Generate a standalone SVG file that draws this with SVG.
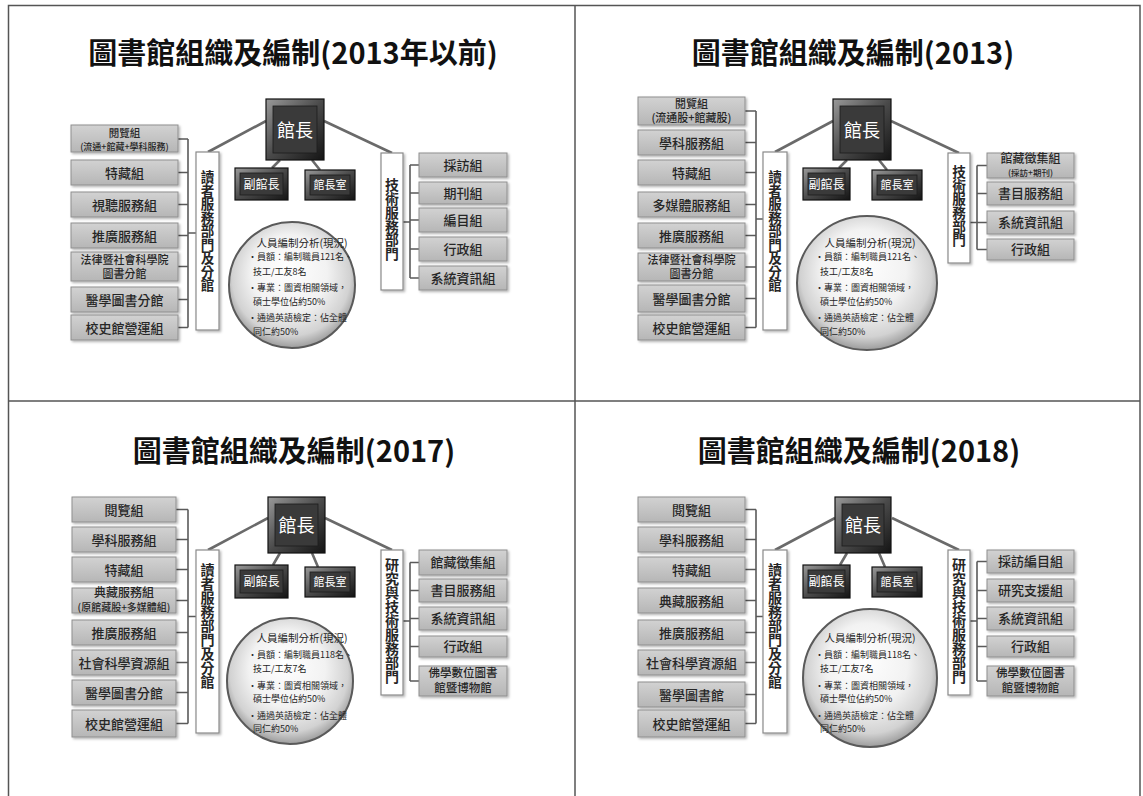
<svg xmlns="http://www.w3.org/2000/svg" width="1143" height="796" viewBox="0 0 1143 796">
<defs>
<linearGradient id="gg" x1="0" y1="0" x2="0" y2="1"><stop offset="0" stop-color="#d2d2d2"/><stop offset="1" stop-color="#b6b6b6"/></linearGradient>
<linearGradient id="bev" x1="0" y1="0" x2="1" y2="1"><stop offset="0" stop-color="#9a9a9a"/><stop offset="0.5" stop-color="#4a4a4a"/><stop offset="1" stop-color="#141414"/></linearGradient>
<radialGradient id="rg" cx="0.5" cy="0.45" r="0.55" fx="0.45" fy="0.35"><stop offset="0" stop-color="#ffffff"/><stop offset="0.55" stop-color="#f2f2f2"/><stop offset="0.85" stop-color="#d2d2d2"/><stop offset="1" stop-color="#9c9c9c"/></radialGradient>
<filter id="sh" x="-10%" y="-10%" width="130%" height="140%"><feDropShadow dx="1.5" dy="1.5" stdDeviation="1" flood-color="#000" flood-opacity="0.3"/></filter>
<style>
.gb{fill:url(#gg);stroke:#8f8f8f;stroke-width:1;filter:url(#sh)}
.lb{fill:#fff;stroke:#8a8a8a;stroke-width:1.2;filter:url(#sh)}
.do{fill:url(#bev);stroke:#111;stroke-width:1.2}
.di{fill:#3a3a3a;stroke:#1c1c1c;stroke-width:0.8}
.ci{fill:url(#rg);stroke:#5a5a5a;stroke-width:2}
.br{stroke:#5a5a5a;stroke-width:1.6;fill:none}
.cn{stroke:#6a6a6a;stroke-width:2.6;fill:none}
.fr{stroke:#555;stroke-width:1.5;fill:none}
text{font-family:"Noto Sans CJK TC","Noto Sans CJK SC",sans-serif;fill:#262626}
.t{font-size:13px;text-anchor:middle;font-weight:500}
.ttl{font-size:29px;font-weight:bold;text-anchor:middle;fill:#111}
.w{fill:#fff;text-anchor:middle}
.v{font-weight:bold;writing-mode:vertical-rl;text-anchor:start}
.s{font-size:9px}
.ch{font-size:10.5px;text-anchor:middle}
</style>
</defs>
<rect width="1143" height="796" fill="#fff"/>
<g id="frame">
<path class="fr" d="M8.5 796V5.5H1140V796M575 5.5V796M8.5 401H1140"/>
</g>

<!-- Q1 -->
<g id="q1">
<text class="ttl" x="293" y="64">圖書館組織及編制(2013年以前)</text>
<g id="q1-conn">
<path class="cn" d="M208 152L266 121M324 121L392 153M280 160L272 168M312 160L320 170"/>
<path class="br" d="M178 139H188M178 172.5H188M178 204.5H188M178 235.5H188M178 266.5H188M178 299.5H188M178 327.5H188M188 139V327.5M188 233H196"/>
<path class="br" d="M403 222H410M410 165V278M410 165H419M410 193H419M410 220H419M410 249H419M410 278H419"/>
</g>
<g id="q1-l1"><rect class="gb" x="71" y="125" width="107" height="27"/><text class="t"><tspan x="124.5" y="137" style="font-size:10.5px">閱覽組</tspan><tspan x="124.5" y="149.5" style="font-size:9px">(流通+館藏+學科服務)</tspan></text></g>
<g id="q1-l2"><rect class="gb" x="71" y="160" width="107" height="25"/><text class="t" x="124.5" y="177.5">特藏組</text></g>
<g id="q1-l3"><rect class="gb" x="71" y="192" width="107" height="25"/><text class="t" x="124.5" y="209.5">視聽服務組</text></g>
<g id="q1-l4"><rect class="gb" x="71" y="223" width="107" height="25"/><text class="t" x="124.5" y="240.5">推廣服務組</text></g>
<g id="q1-l5"><rect class="gb" x="71" y="252" width="107" height="29"/><text class="t" style="font-size:11px"><tspan x="124.5" y="263.5">法律暨社會科學院</tspan><tspan x="124.5" y="277.5">圖書分館</tspan></text></g>
<g id="q1-l6"><rect class="gb" x="71" y="287" width="107" height="25"/><text class="t" x="124.5" y="304.5">醫學圖書分館</text></g>
<g id="q1-l7"><rect class="gb" x="71" y="315" width="107" height="25"/><text class="t" x="124.5" y="332.5">校史館營運組</text></g>
<g id="q1-reader"><rect class="lb" x="196" y="152" width="23" height="178"/><text class="v" x="207.5" y="170.3" style="font-size:13.5px">讀者服務部門及分館</text></g>
<g id="q1-director"><rect class="do" x="266" y="99" width="58" height="61"/><rect class="di" x="273" y="106" width="44" height="47"/><text class="w" x="295" y="137" font-size="18">館長</text></g>
<g id="q1-deputy"><rect class="do" x="235" y="168" width="53" height="32"/><rect class="di" x="240" y="173" width="43" height="22"/><text class="w" x="261.5" y="188.5" font-size="12">副館長</text></g>
<g id="q1-office"><rect class="do" x="305" y="170" width="50" height="30"/><rect class="di" x="310" y="175" width="40" height="20"/><text class="w" x="330" y="189" font-size="11">館長室</text></g>
<g id="q1-staff"><ellipse class="ci" cx="292" cy="285" rx="63" ry="63"/><text class="s"><tspan class="ch" x="302" y="247">人員編制分析(現況)</tspan><tspan x="248" y="260">•員額：編制職員121名、</tspan><tspan x="253" y="275">技工/工友8名</tspan><tspan x="248" y="291">•專業：圖資相關領域，</tspan><tspan x="253" y="305">碩士學位佔約50%</tspan><tspan x="248" y="321">•通過英語檢定：佔全體</tspan><tspan x="253" y="335">同仁約50%</tspan></text></g>
<g id="q1-tech"><rect class="lb" x="381" y="153" width="22" height="137"/><text class="v" x="392" y="178.1" style="font-size:13.8px">技術服務部門</text></g>
<g id="q1-r1"><rect class="gb" x="419" y="153" width="88" height="24"/><text class="t" x="463" y="170">採訪組</text></g>
<g id="q1-r2"><rect class="gb" x="419" y="182" width="88" height="22"/><text class="t" x="463" y="197.8">期刊組</text></g>
<g id="q1-r3"><rect class="gb" x="419" y="208" width="88" height="24"/><text class="t" x="463" y="225">編目組</text></g>
<g id="q1-r4"><rect class="gb" x="419" y="237" width="88" height="24"/><text class="t" x="463" y="254">行政組</text></g>
<g id="q1-r5"><rect class="gb" x="419" y="266" width="88" height="24"/><text class="t" x="463" y="283">系統資訊組</text></g>
</g>

<!-- Q2 -->
<g id="q2" transform="translate(567,0)">
<text class="ttl" x="286" y="64">圖書館組織及編制(2013)</text>
<g id="q2-conn">
<path class="cn" d="M208 152L266 121M324 121L392 153M280 160L272 168M312 160L320 170"/>
<path class="br" d="M178 111H189M178 142.5H189M178 172.5H189M178 204.5H189M178 235.5H189M178 267H189M178 298.5H189M178 327.5H189M189 111V327.5M189 219H196"/>
<path class="br" d="M403 222.5H410M410 165.5V249.5M410 165.5H420M410 193.5H420M410 222.5H420M410 249.5H420"/>
</g>
<g id="q2-l1"><rect class="gb" x="71" y="97" width="107" height="28"/><text class="t" style="font-size:11px"><tspan x="124.5" y="108">閱覽組</tspan><tspan x="124.5" y="122">(流通股+館藏股)</tspan></text></g>
<g id="q2-l2"><rect class="gb" x="71" y="130" width="107" height="25"/><text class="t" x="124.5" y="147.5">學科服務組</text></g>
<g id="q2-l3"><rect class="gb" x="71" y="160" width="107" height="25"/><text class="t" x="124.5" y="177.5">特藏組</text></g>
<g id="q2-l4"><rect class="gb" x="71" y="192" width="107" height="25"/><text class="t" x="124.5" y="209.5">多媒體服務組</text></g>
<g id="q2-l5"><rect class="gb" x="71" y="223" width="107" height="25"/><text class="t" x="124.5" y="240.5">推廣服務組</text></g>
<g id="q2-l6"><rect class="gb" x="71" y="253" width="107" height="28"/><text class="t" style="font-size:11px"><tspan x="124.5" y="263.5">法律暨社會科學院</tspan><tspan x="124.5" y="277.5">圖書分館</tspan></text></g>
<g id="q2-l7"><rect class="gb" x="71" y="285" width="107" height="27"/><text class="t" x="124.5" y="303.5">醫學圖書分館</text></g>
<g id="q2-l8"><rect class="gb" x="71" y="315" width="107" height="25"/><text class="t" x="124.5" y="332.5">校史館營運組</text></g>
<g id="q2-reader"><rect class="lb" x="196" y="152" width="24" height="178"/><text class="v" x="208" y="170.3" style="font-size:13.5px">讀者服務部門及分館</text></g>
<g id="q2-director"><rect class="do" x="266" y="99" width="58" height="61"/><rect class="di" x="273" y="106" width="44" height="47"/><text class="w" x="295" y="137" font-size="18">館長</text></g>
<g id="q2-deputy"><rect class="do" x="236" y="168" width="47" height="32"/><rect class="di" x="241" y="173" width="37" height="22"/><text class="w" x="259.5" y="188.5" font-size="12">副館長</text></g>
<g id="q2-office"><rect class="do" x="305" y="170" width="50" height="30"/><rect class="di" x="310" y="175" width="40" height="20"/><text class="w" x="330" y="189" font-size="11">館長室</text></g>
<g id="q2-staff"><ellipse class="ci" cx="300" cy="283" rx="70" ry="67"/><text class="s"><tspan class="ch" x="303" y="247">人員編制分析(現況)</tspan><tspan x="248" y="260">•員額：編制職員121名、</tspan><tspan x="253" y="275">技工/工友8名</tspan><tspan x="248" y="291">•專業：圖資相關領域，</tspan><tspan x="253" y="305">碩士學位佔約50%</tspan><tspan x="248" y="321">•通過英語檢定：佔全體</tspan><tspan x="253" y="335">同仁約50%</tspan></text></g>
<g id="q2-tech"><rect class="lb" x="381" y="153" width="22" height="110"/><text class="v" x="392" y="165.2" style="font-size:13.6px">技術服務部門</text></g>
<g id="q2-r1"><rect class="gb" x="420" y="153" width="87" height="25"/><text class="t"><tspan x="463.5" y="163" style="font-size:12px">館藏徵集組</tspan><tspan x="463.5" y="175.5" style="font-size:8.5px">(採訪+期刊)</tspan></text></g>
<g id="q2-r2"><rect class="gb" x="420" y="182" width="87" height="23"/><text class="t" x="463.5" y="198.3">書目服務組</text></g>
<g id="q2-r3"><rect class="gb" x="420" y="211" width="87" height="23"/><text class="t" x="463.5" y="227.3">系統資訊組</text></g>
<g id="q2-r4"><rect class="gb" x="420" y="239" width="87" height="21"/><text class="t" x="463.5" y="254.3">行政組</text></g>
</g>

<!-- Q3 -->
<g id="q3">
<text class="ttl" x="294" y="462">圖書館組織及編制(2017)</text>
<g id="q3-conn">
<path class="cn" d="M208 550L268 518M325 518L392 550M280 553L273 565M312 553L318 567"/>
<path class="br" d="M176 509.5H188M176 539.5H188M176 569.5H188M176 600.5H188M176 632.5H188M176 662.5H188M176 692.5H188M176 723.5H188M188 509.5V723.5M188 616.5H196"/>
<path class="br" d="M403 621H410M410 562.5V681M410 562.5H419M410 590.5H419M410 618.5H419M410 646.5H419M410 681H419"/>
</g>
<g id="q3-l1"><rect class="gb" x="72" y="497" width="104" height="25"/><text class="t" x="124" y="514.5">閱覽組</text></g>
<g id="q3-l2"><rect class="gb" x="72" y="527" width="104" height="25"/><text class="t" x="124" y="544.5">學科服務組</text></g>
<g id="q3-l3"><rect class="gb" x="72" y="557" width="104" height="25"/><text class="t" x="124" y="574.5">特藏組</text></g>
<g id="q3-l4"><rect class="gb" x="72" y="588" width="104" height="25"/><text class="t"><tspan x="124" y="597" style="font-size:12px">典藏服務組</tspan><tspan x="124" y="610.5" style="font-size:10px">(原館藏股+多媒體組)</tspan></text></g>
<g id="q3-l5"><rect class="gb" x="72" y="620" width="104" height="25"/><text class="t" x="124" y="637.5">推廣服務組</text></g>
<g id="q3-l6"><rect class="gb" x="72" y="650" width="104" height="25"/><text class="t" x="124" y="667.5">社會科學資源組</text></g>
<g id="q3-l7"><rect class="gb" x="72" y="680" width="104" height="25"/><text class="t" x="124" y="697.5">醫學圖書分館</text></g>
<g id="q3-l8"><rect class="gb" x="72" y="710" width="104" height="27"/><text class="t" x="124" y="728.5">校史館營運組</text></g>
<g id="q3-reader"><rect class="lb" x="196" y="550" width="23" height="183"/><text class="v" x="207.5" y="563" style="font-size:14px">讀者服務部門及分館</text></g>
<g id="q3-director"><rect class="do" x="268" y="497" width="57" height="56"/><rect class="di" x="275" y="504" width="43" height="42"/><text class="w" x="296.5" y="531.5" font-size="18">館長</text></g>
<g id="q3-deputy"><rect class="do" x="235" y="565" width="53" height="33"/><rect class="di" x="240" y="570" width="43" height="23"/><text class="w" x="261.5" y="586" font-size="12">副館長</text></g>
<g id="q3-office"><rect class="do" x="305" y="567" width="50" height="30"/><rect class="di" x="310" y="572" width="40" height="20"/><text class="w" x="330" y="586" font-size="11">館長室</text></g>
<g id="q3-staff"><ellipse class="ci" cx="290" cy="681" rx="63" ry="63"/><text class="s"><tspan class="ch" x="302" y="642">人員編制分析(現況)</tspan><tspan x="248" y="658">•員額：編制職員118名、</tspan><tspan x="253" y="672">技工/工友7名</tspan><tspan x="248" y="689">•專業：圖資相關領域，</tspan><tspan x="253" y="702">碩士學位佔約50%</tspan><tspan x="248" y="719">•通過英語檢定：佔全體</tspan><tspan x="253" y="732">同仁約50%</tspan></text></g>
<g id="q3-tech"><rect class="lb" x="381" y="550" width="22" height="145"/><text class="v" x="392" y="558" style="font-size:14px">研究與技術服務部門</text></g>
<g id="q3-r1"><rect class="gb" x="419" y="550" width="88" height="25"/><text class="t" x="463" y="567.3">館藏徵集組</text></g>
<g id="q3-r2"><rect class="gb" x="419" y="579" width="88" height="23"/><text class="t" x="463" y="595.3">書目服務組</text></g>
<g id="q3-r3"><rect class="gb" x="419" y="607" width="88" height="23"/><text class="t" x="463" y="623.3">系統資訊組</text></g>
<g id="q3-r4"><rect class="gb" x="419" y="636" width="88" height="21"/><text class="t" x="463" y="651.3">行政組</text></g>
<g id="q3-r5"><rect class="gb" x="419" y="666" width="88" height="30"/><text class="t" style="font-size:11.5px"><tspan x="463" y="677">佛學數位圖書</tspan><tspan x="463" y="691.5">館暨博物館</tspan></text></g>
</g>

<!-- Q4 -->
<g id="q4" transform="translate(567,0)">
<text class="ttl" x="292" y="462">圖書館組織及編制(2018)</text>
<g id="q4-conn">
<path class="cn" d="M208 550L268 518M325 518L392 550M280 553L273 565M312 553L318 567"/>
<path class="br" d="M178 509.5H189M178 539.5H189M178 569.5H189M178 600.5H189M178 632.5H189M178 662.5H189M178 694.5H189M178 723.5H189M189 509.5V723.5M189 616.5H196"/>
<path class="br" d="M403 621H410M410 561.5V681M410 561.5H420M410 590.5H420M410 618.5H420M410 646.5H420M410 681H420"/>
</g>
<g id="q4-l1"><rect class="gb" x="71" y="497" width="107" height="25"/><text class="t" x="124.5" y="514.5">閱覽組</text></g>
<g id="q4-l2"><rect class="gb" x="71" y="527" width="107" height="25"/><text class="t" x="124.5" y="544.5">學科服務組</text></g>
<g id="q4-l3"><rect class="gb" x="71" y="557" width="107" height="25"/><text class="t" x="124.5" y="574.5">特藏組</text></g>
<g id="q4-l4"><rect class="gb" x="71" y="588" width="107" height="25"/><text class="t" x="124.5" y="605.5">典藏服務組</text></g>
<g id="q4-l5"><rect class="gb" x="71" y="620" width="107" height="25"/><text class="t" x="124.5" y="637.5">推廣服務組</text></g>
<g id="q4-l6"><rect class="gb" x="71" y="650" width="107" height="25"/><text class="t" x="124.5" y="667.5">社會科學資源組</text></g>
<g id="q4-l7"><rect class="gb" x="71" y="682" width="107" height="25"/><text class="t" x="124.5" y="699.5">醫學圖書館</text></g>
<g id="q4-l8"><rect class="gb" x="71" y="710" width="107" height="27"/><text class="t" x="124.5" y="728.5">校史館營運組</text></g>
<g id="q4-reader"><rect class="lb" x="196" y="550" width="24" height="183"/><text class="v" x="208" y="563" style="font-size:14px">讀者服務部門及分館</text></g>
<g id="q4-director"><rect class="do" x="268" y="497" width="56" height="56"/><rect class="di" x="275" y="504" width="42" height="42"/><text class="w" x="296" y="531.5" font-size="18">館長</text></g>
<g id="q4-deputy"><rect class="do" x="236" y="565" width="47" height="33"/><rect class="di" x="241" y="570" width="37" height="23"/><text class="w" x="259.5" y="586" font-size="12">副館長</text></g>
<g id="q4-office"><rect class="do" x="305" y="567" width="50" height="30"/><rect class="di" x="310" y="572" width="40" height="20"/><text class="w" x="330" y="586" font-size="11">館長室</text></g>
<g id="q4-staff"><ellipse class="ci" cx="303" cy="678" rx="67" ry="69"/><text class="s"><tspan class="ch" x="303" y="642">人員編制分析(現況)</tspan><tspan x="248" y="658">•員額：編制職員118名、</tspan><tspan x="253" y="672">技工/工友7名</tspan><tspan x="248" y="689">•專業：圖資相關領域，</tspan><tspan x="253" y="702">碩士學位佔約50%</tspan><tspan x="248" y="719">•通過英語檢定：佔全體</tspan><tspan x="253" y="732">同仁約50%</tspan></text></g>
<g id="q4-tech"><rect class="lb" x="381" y="550" width="22" height="145"/><text class="v" x="392" y="558" style="font-size:14px">研究與技術服務部門</text></g>
<g id="q4-r1"><rect class="gb" x="420" y="550" width="87" height="23"/><text class="t" x="463.5" y="566.3">採訪編目組</text></g>
<g id="q4-r2"><rect class="gb" x="420" y="579" width="87" height="23"/><text class="t" x="463.5" y="595.3">研究支援組</text></g>
<g id="q4-r3"><rect class="gb" x="420" y="607" width="87" height="23"/><text class="t" x="463.5" y="623.3">系統資訊組</text></g>
<g id="q4-r4"><rect class="gb" x="420" y="636" width="87" height="21"/><text class="t" x="463.5" y="651.3">行政組</text></g>
<g id="q4-r5"><rect class="gb" x="420" y="666" width="87" height="30"/><text class="t" style="font-size:11.5px"><tspan x="463.5" y="677">佛學數位圖書</tspan><tspan x="463.5" y="691.5">館暨博物館</tspan></text></g>
</g>
</svg>
